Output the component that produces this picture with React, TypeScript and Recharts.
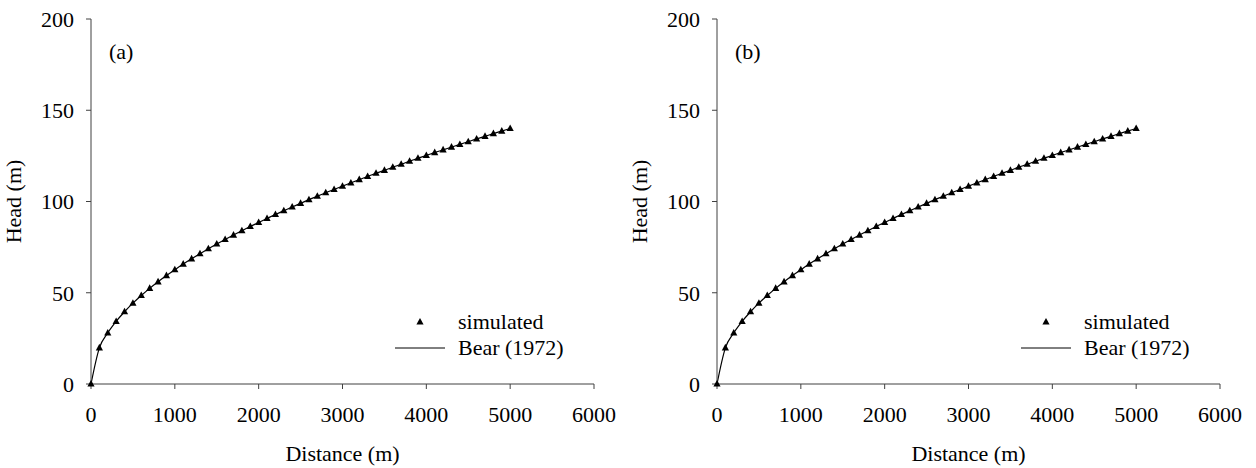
import React from "react";
import {
  ComposedChart,
  Line,
  Scatter,
  XAxis,
  YAxis,
  Legend,
} from "recharts";

// distance from the boundary (m)
const distance = [
  0, 100, 200, 300, 400, 500, 600, 700, 800, 900, 1000, 1100, 1200, 1300, 1400,
  1500, 1600, 1700, 1800, 1900, 2000, 2100, 2200, 2300, 2400, 2500, 2600, 2700,
  2800, 2900, 3000, 3100, 3200, 3300, 3400, 3500, 3600, 3700, 3800, 3900, 4000,
  4100, 4200, 4300, 4400, 4500, 4600, 4700, 4800, 4900, 5000,
];

// simulated head (m)
const simulatedHead = [
  0, 19.8, 28.0, 34.3, 39.6, 44.3, 48.5, 52.4, 56.0, 59.4, 62.6, 65.7, 68.6,
  71.4, 74.1, 76.7, 79.2, 81.6, 84.0, 86.3, 88.5, 90.7, 92.9, 95.0, 97.0, 99.0,
  101.0, 102.9, 104.8, 106.6, 108.4, 110.2, 112.0, 113.7, 115.5, 117.1, 118.8,
  120.4, 122.1, 123.7, 125.2, 126.8, 128.3, 129.8, 131.3, 132.8, 134.3, 135.7,
  137.2, 138.6, 140.0,
];

// analytical solution, Bear (1972)
const bearHead = [
  0, 19.8, 28.0, 34.3, 39.6, 44.3, 48.5, 52.4, 56.0, 59.4, 62.6, 65.7, 68.6,
  71.4, 74.1, 76.7, 79.2, 81.6, 84.0, 86.3, 88.5, 90.7, 92.9, 95.0, 97.0, 99.0,
  101.0, 102.9, 104.8, 106.6, 108.4, 110.2, 112.0, 113.7, 115.5, 117.1, 118.8,
  120.4, 122.1, 123.7, 125.2, 126.8, 128.3, 129.8, 131.3, 132.8, 134.3, 135.7,
  137.2, 138.6, 140.0,
];

const xTicks = [0, 1000, 2000, 3000, 4000, 5000, 6000];
const yTicks = [0, 50, 100, 150, 200];
const panelLabels = ["(a)", "(b)"];

const font = "Liberation Serif";
const axisColor = "#404040";

const data = distance.map((d, i) => ({
  distance: d,
  simulated: simulatedHead[i],
  bear: bearHead[i],
}));

const Triangle = ({ cx, cy }: any) => (
  <polygon
    points={`${cx},${cy - 4} ${cx - 3.6},${cy + 2.6} ${cx + 3.6},${cy + 2.6}`}
    fill="#000"
  />
);

const LegendBox = ({ payload }: any) => {
  const items = [...(payload || [])].sort((a: any, b: any) =>
    a.value === "simulated" ? -1 : b.value === "simulated" ? 1 : 0
  );
  return (
    <div style={{ fontFamily: font, fontSize: 22, color: "#000" }}>
      {items.map((it: any) => (
        <div
          key={it.value}
          style={{ display: "flex", alignItems: "center", height: 26 }}
        >
          <svg width={50} height={26} style={{ marginRight: 13 }}>
            {it.value === "simulated" ? (
              <Triangle cx={25} cy={13} />
            ) : (
              <line x1={0} y1={13} x2={50} y2={13} stroke="#000" strokeWidth={1} />
            )}
          </svg>
          <span>{it.value}</span>
        </div>
      ))}
    </div>
  );
};

function Panel({ label }: { label: string }) {
  return (
    <div style={{ position: "relative", width: 626, height: 468, fontFamily: font }}>
      <ComposedChart
        width={626}
        height={468}
        data={data}
        margin={{ top: 19, right: 32, left: 21, bottom: 24 }}
        style={{ fontFamily: font }}
      >
        <XAxis
          xAxisId="b"
          dataKey="distance"
          type="number"
          domain={[0, 6000]}
          ticks={xTicks}
          height={60}
          stroke={axisColor}
          tickSize={5}
          tickMargin={17}
          tick={{ fill: "#000", fontSize: 22, fontFamily: font }}
          label={{
            content: ({ viewBox }: any) => (
              <text
                x={viewBox.x + viewBox.width / 2}
                y={viewBox.y + 77}
                textAnchor="middle"
                style={{ fontFamily: font, fontSize: 22 }}
                fill="#000"
              >
                Distance (m)
              </text>
            ),
          }}
        />
        <XAxis
          xAxisId="t"
          orientation="top"
          dataKey="distance"
          type="number"
          domain={[0, 6000]}
          height={0}
          tick={false}
          tickLine={false}
          stroke={axisColor}
        />
        <YAxis
          yAxisId="l"
          type="number"
          domain={[0, 200]}
          ticks={yTicks}
          width={70}
          stroke={axisColor}
          tickSize={5}
          tickMargin={12}
          tick={{ fill: "#000", fontSize: 22, fontFamily: font }}
          label={{
            content: ({ viewBox }: any) => {
              const x = viewBox.x;
              const y = viewBox.y + viewBox.height / 2;
              return (
                <text
                  x={x}
                  y={y}
                  transform={`rotate(-90, ${x}, ${y})`}
                  textAnchor="middle"
                  style={{ fontFamily: font, fontSize: 22 }}
                  fill="#000"
                >
                  Head (m)
                </text>
              );
            },
          }}
        />
        <YAxis
          yAxisId="r"
          orientation="right"
          type="number"
          domain={[0, 200]}
          width={0}
          tick={false}
          tickLine={false}
          stroke={axisColor}
        />
        <Line
          xAxisId="b"
          yAxisId="l"
          dataKey="bear"
          name="Bear (1972)"
          type="monotone"
          stroke="#000"
          strokeWidth={1.2}
          dot={false}
          activeDot={false}
          isAnimationActive={false}
        />
        <Scatter
          xAxisId="b"
          yAxisId="l"
          dataKey="simulated"
          name="simulated"
          shape={<Triangle />}
          isAnimationActive={false}
        />
        <Legend
          content={<LegendBox />}
          wrapperStyle={{
            position: "absolute",
            left: 395,
            top: 309,
            width: 220,
            height: 0,
            overflow: "visible",
          }}
        />
      </ComposedChart>
      <div
        style={{
          position: "absolute",
          left: 109,
          top: 41,
          fontFamily: font,
          fontSize: 22,
          lineHeight: "22px",
          color: "#000",
        }}
      >
        {label}
      </div>
    </div>
  );
}

export default function App() {
  return (
    <div
      style={{
        position: "absolute",
        left: 0,
        top: 0,
        width: 1256,
        height: 468,
        background: "#fff",
        display: "flex",
        fontFamily: font,
      }}
    >
      {panelLabels.map((l) => (
        <Panel key={l} label={l} />
      ))}
    </div>
  );
}
